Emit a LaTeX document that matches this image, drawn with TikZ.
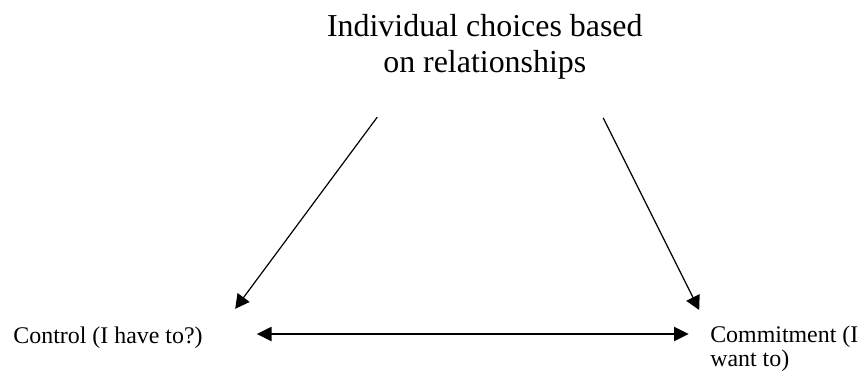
\documentclass[tikz,border=0pt]{standalone}
\usepackage{fontspec}
\setmainfont{Liberation Serif}
\usepackage{tikz}
\usetikzlibrary{arrows.meta,positioning,calc}

\begin{document}
\begin{tikzpicture}[
  big/.style={align=center, inner sep=0pt, font=\fontsize{22.7}{25.6}\selectfont},
  lbl/.style={inner sep=0pt, font=\fontsize{17}{17}\selectfont},
  arr/.style={-{Triangle[length=10pt, width=10.5pt]}, line width=0.85pt},
  dbl/.style={{Triangle[length=10.5pt, width=10pt]}-{Triangle[length=10.5pt, width=10pt]}, line width=1.3pt}
]
  \useasboundingbox (0,0) rectangle (21.5,-9.3);

  % Labels
  \node[big, anchor=base] (choice) at (12.12,-1.82) {Individual choices based\\on relationships};
  \node[lbl, anchor=base west] (ctrl) at (0.33,-8.58) {Control (I have to?)};
  \node[lbl, anchor=base west, align=left] (commit) at (17.75,-9.17) {Commitment (I\\want to)};

  % Arrow ends
  \coordinate (lstart) at (9.43,-2.93);
  \coordinate (ltip)   at (5.88,-7.72);
  \coordinate (rstart) at (15.08,-2.95);
  \coordinate (rtip)   at (17.48,-7.75);
  \coordinate (hleft)  at (6.42,-8.35);
  \coordinate (hright) at (17.22,-8.35);

  % Arrows
  \draw[arr] (lstart) -- (ltip);
  \draw[arr] (rstart) -- (rtip);
  \draw[dbl] (hleft) -- (hright);
\end{tikzpicture}
\end{document}
